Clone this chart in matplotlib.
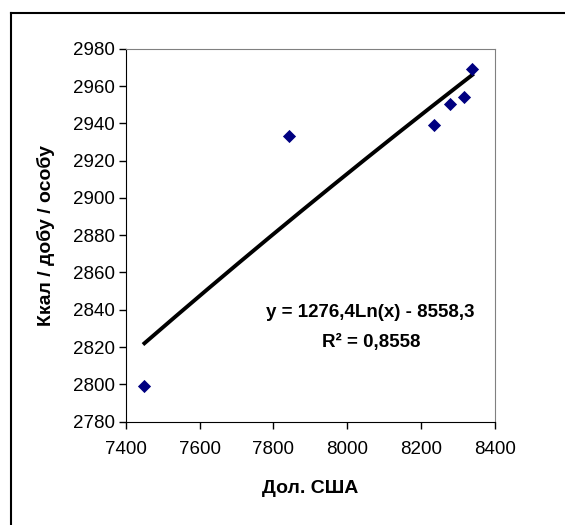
import numpy as np
import matplotlib
matplotlib.use("Agg")
import matplotlib.pyplot as plt
from matplotlib.lines import Line2D

plt.rcParams['font.family'] = ['Liberation Sans', 'DejaVu Sans']

# data
usd = [7450, 7841, 8236, 8279, 8317, 8339]
kcal = [2799, 2933, 2939, 2950.5, 2954.3, 2969]

# log trendline as printed on the chart
coef_a = 1276.4
coef_b = -8558.3
r2 = 0.8558

x_ticks = [7400, 7600, 7800, 8000, 8200, 8400]
y_ticks = [2780, 2800, 2820, 2840, 2860, 2880, 2900, 2920, 2940, 2960, 2980]

fig = plt.figure(figsize=(5.65, 5.25), dpi=100)
ax = fig.add_axes([0.223, 0.1968, 0.6526, 0.7104])

# outer chart frame (only top and left show in the crop)
fx = 10.5 / 565
fy = 1 - 13 / 525
fig.add_artist(Line2D([fx, fx], [0, fy], transform=fig.transFigure, color='black', lw=1.5))
fig.add_artist(Line2D([fx, 1], [fy, fy], transform=fig.transFigure, color='black', lw=1.5))

xs = np.linspace(min(usd), max(usd), 200)
ax.plot(xs, coef_a * np.log(xs) + coef_b, color='black', lw=2.8, zorder=2)
ax.scatter(usd, kcal, marker='D', s=45, color='#000080', zorder=3, linewidths=0)

ax.set_xlim(7400, 8400)
ax.set_ylim(2780, 2980)
ax.set_xticks(x_ticks)
ax.set_yticks(y_ticks)
ax.tick_params(direction='out', length=5, width=1, labelsize=13.5, pad=3)
ax.tick_params(axis='x', pad=9)

for s in ['top', 'right']:
    ax.spines[s].set_color('#808080')
for s in ['left', 'bottom']:
    ax.spines[s].set_color('black')

ax.set_xlabel('Дол. США', fontsize=14, fontweight='bold', labelpad=16)
ax.set_ylabel('Ккал / добу / особу', fontsize=14, fontweight='bold', labelpad=13)

ax.text(0.663, 0.292, 'y = 1276,4Ln(x) - 8558,3', transform=ax.transAxes,
        ha='center', va='center', fontsize=13.5, fontweight='bold')
ax.text(0.666, 0.213, 'R² = 0,8558', transform=ax.transAxes,
        ha='center', va='center', fontsize=13.5, fontweight='bold')

fig.savefig('out.png', dpi=100)
